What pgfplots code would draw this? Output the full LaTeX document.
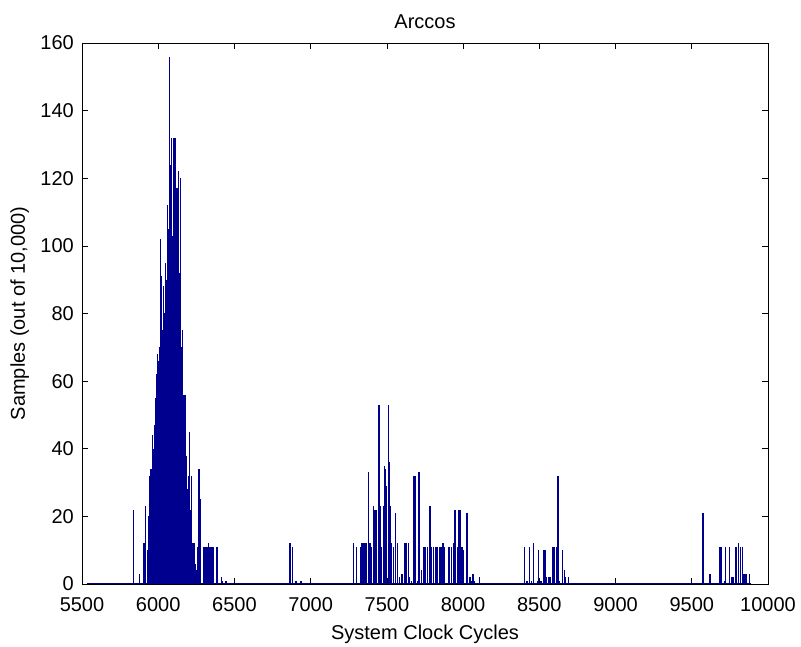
\documentclass[border=0pt]{standalone}
\usepackage{pgfplots}
\pgfplotsset{compat=1.18}
\usepackage{fontspec}
\setmainfont{Liberation Sans}
\definecolor{mblue}{RGB}{0,0,143}
\begin{document}
\begin{tikzpicture}
\begin{axis}[
  name=ax,
  width=686bp, height=541bp, scale only axis,
  xmin=5500, xmax=10000, ymin=0, ymax=160,
  xtick={5500,6000,...,10000},
  ytick={0,20,...,160},
  tick align=inside,
  major tick length=6bp,
  tick style={black, line width=0.6bp},
  axis line style={black, line width=0.8bp},
  /pgf/number format/assume math mode=true,
  /pgf/number format/set thousands separator={},
  scaled x ticks=false,
  font=\fontsize{20bp}{24bp}\selectfont,
  title={Arccos},
  xlabel={System Clock Cycles},
  ylabel={Samples (out of 10,000)},
  title style={yshift=5bp},
  xticklabel style={inner sep=1bp, yshift=-12bp},
  yticklabel style={inner sep=1bp, xshift=-7bp},
  xlabel style={yshift=-9bp},
  ylabel style={yshift=7bp},
  axis on top=false,
  clip=true,
]
% baseline of the histogram
\addplot[mblue, line width=1.6bp] coordinates {(5535,0)(9890,0)};
% filler for the dense main cluster
\addplot[mblue, ycomb, line width=1.2bp] coordinates {
(5932,10)(5936,20)(5940,15)(5944,28)(5948,22)(5952,30)(5956,25)(5960,34)(5964,30)(5968,40)
(5972,33)(5976,45)(5980,38)(5984,55)(5988,45)(5992,62)(5996,50)(6000,58)(6004,66)(6008,55)
(6012,70)(6016,78)(6020,65)(6024,85)(6028,75)(6032,70)(6036,88)(6040,72)(6044,80)(6048,95)
(6052,78)(6056,90)(6060,100)(6064,85)(6068,105)(6072,95)(6076,108)(6080,100)(6084,90)(6088,110)
(6092,98)(6096,103)(6100,92)(6104,108)(6108,100)(6112,95)(6116,105)(6120,90)(6124,100)(6128,88)
(6132,98)(6136,80)(6140,92)(6144,72)(6148,85)(6152,65)(6156,70)(6160,55)(6164,52)(6168,48)
(6172,50)(6176,40)(6180,44)(6184,35)(6188,38)(6192,28)(6196,32)(6200,22)(6204,26)(6208,18)
(6212,22)(6216,14)(6220,17)(6224,10)(6228,12)(6232,6)(6236,9)(6240,4)(6244,6)(6248,3)
(6252,4)(6256,2)(6260,3)(6264,1)
};
% individual peaks
\addplot[mblue, ycomb, line width=1.3bp] coordinates {
(5837,22)(5876,3)(5907,12)(5915,23)(5946,32)(5952,34)(5963,44)(5978,47)(5996,68)(6017,102)
(6020,91)(6039,78)(6050,81)(6059,112)(6072,156)(6078,124)(6087,132)(6098,113)(6104,132)(6113,132)
(6124,117)(6135,122)(6141,84)(6146,120)(6157,75)(6165,56)(6176,56)(6196,23)(6207,45)(6217,32)
(6239,12)(6257,11)(6267,34)(6276,25)(6300,11)(6310,11)(6320,11)(6330,12)(6340,11)(6352,11)
(6364,11)(6380,11)(6391,11)(6413,2)(6423,1)(6445,1)
(6865,12)(6882,11)(6904,1)(6937,1)
(7280,12)(7302,11)(7328,11)(7337,12)(7350,12)(7357,12)(7363,12)(7368,11)(7381,33)(7390,12)
(7400,11)(7411,23)(7422,22)(7433,22)(7448,53)(7456,23)(7466,11)(7477,23)(7483,35)(7492,34)
(7498,29)(7509,53)(7516,36)(7520,23)(7531,12)(7542,11)(7557,21)(7570,12)(7581,2)(7600,3)
(7618,12)(7629,12)(7644,12)(7650,2)(7660,1)(7678,32)(7687,32)(7700,1)(7710,33)(7728,4)
(7744,11)(7755,11)(7768,11)(7783,23)(7793,11)(7804,11)(7822,11)(7832,11)(7843,11)(7854,11)
(7869,12)(7880,11)(7902,11)(7913,11)(7924,11)(7935,12)(7943,22)(7952,22)(7963,11)(7974,22)
(7982,22)(7993,11)(8004,10)(8026,21)(8045,2)(8055,1)(8065,3)(8075,1)(8108,2)
(8401,11)(8420,1)(8434,11)(8450,1)(8461,12)(8488,1)(8496,10)(8510,1)(8526,10)(8537,10)
(8548,2)(8560,2)(8570,2)(8586,11)(8597,11)(8614,11)(8623,32)(8630,1)(8653,10)(8664,4)
(8672,2)(8692,2)
(9569,21)(9575,21)(9620,3)(9681,11)(9692,11)(9715,1)(9723,11)(9746,11)(9760,2)(9770,2)
(9786,11)(9795,11)(9808,12)(9821,11)(9832,11)(9843,3)(9850,3)(9861,3)(9878,3)
};
\end{axis}
\path[use as bounding box] (ax.south west) ++(-82bp,-62bp) rectangle ++(801bp,646bp);
\end{tikzpicture}
\end{document}
